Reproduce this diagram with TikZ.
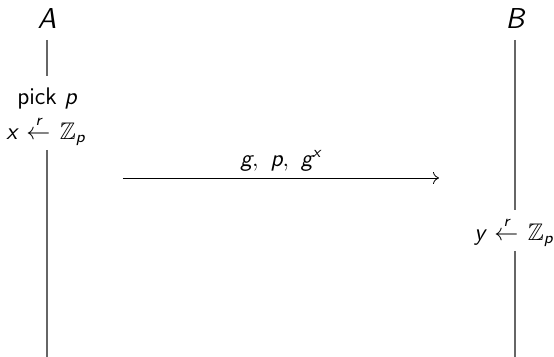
\documentclass[tikz,border=0pt]{standalone}
\usepackage{amsmath,amssymb}
\usetikzlibrary{arrows.meta}
\newcommand{\mv}[1]{\text{\sffamily\itshape #1}}
\newcommand{\rarr}{\mkern2mu\stackrel{\mv{r}}{\leftarrow}\mkern2mu}
\begin{document}
\sffamily
\begin{tikzpicture}[x=0.5pt,y=-0.5pt,
  party/.style={font=\Large\sffamily, inner sep=1pt},
  act/.style={font=\large\sffamily, inner sep=1pt},
  life/.style={draw=black!60, line width=0.6pt},
  msg/.style={draw=black, line width=0.4pt, -{To[length=3pt,width=6pt]}},
  msglabel/.style={font=\large\sffamily, inner sep=1pt, above}]
\useasboundingbox (0,0) rectangle (554,357);
\node[party] (A) at (47,19) {\itshape A};
\node[party] (B) at (515,19) {\itshape B};
\node[act] (pick) at (47,99) {pick \itshape p};
\node[act] (xr) at (46,131) {$\mv{x}\rarr\mathbb{Z}_{\mv{p}}$};
\node[act] (yr) at (514,232) {$\mv{y}\rarr\mathbb{Z}_{\mv{p}}$};
\coordinate (a1) at (47,40);
\coordinate (a2) at (47,76);
\coordinate (a3) at (47,150);
\coordinate (a4) at (47,357);
\coordinate (b1) at (515,40);
\coordinate (b2) at (515,210);
\coordinate (b3) at (515,251);
\coordinate (b4) at (515,357);
\draw[life] (a1) -- (a2);
\draw[life] (a3) -- (a4);
\draw[life] (b1) -- (b2);
\draw[life] (b3) -- (b4);
\coordinate (m1) at (123,178);
\coordinate (m2) at (439,178);
\draw[msg] (m1) -- node[msglabel, yshift=2pt] {$\mv{g},\ \mv{p},\ \mv{g}^{\mv{x}}$} (m2);
\end{tikzpicture}
\end{document}
